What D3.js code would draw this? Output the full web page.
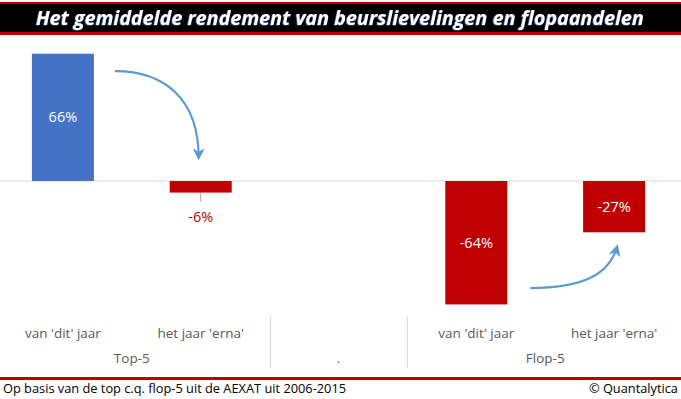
<!DOCTYPE html>
<html>
<head>
<meta charset="utf-8">
<script src="https://cdn.jsdelivr.net/npm/d3@7"></script>
<style>
  html, body { margin: 0; padding: 0; background: #fff; }
  svg { display: block; }
</style>
</head>
<body>
<svg id="chart" width="681" height="399"></svg>
<script>
// ---- data ----
const categories = ["van 'dit' jaar", "het jaar 'erna'", "", "van 'dit' jaar", "het jaar 'erna'"];
const groups = ["Top-5", "Top-5", ".", "Flop-5", "Flop-5"];
const values = [0.66, -0.06, null, -0.64, -0.266];
const yDomain = [-0.7, 0.7];
const titleText = "Het gemiddelde rendement van beurslievelingen en flopaandelen";
const footnote = "Op basis van de top c.q. flop-5 uit de AEXAT uit 2006-2015";
const credit = "© Quantalytica";

const W = 681, H = 399;
const svg = d3.select("#chart");
const font = "'Open Sans', 'Noto Sans', sans-serif";

// ---- title bar ----
svg.append("rect").attr("x", 0).attr("y", 2).attr("width", W).attr("height", 33).attr("fill", "#C00000");
svg.append("rect").attr("x", 0).attr("y", 4).attr("width", W).attr("height", 28).attr("fill", "#000");
const defs = svg.append("defs");
const flt = defs.append("filter").attr("id", "tshadow").attr("x", "-5%").attr("y", "-20%").attr("width", "110%").attr("height", "140%");
flt.append("feDropShadow").attr("dx", -0.8).attr("dy", 0.5).attr("stdDeviation", 0.3).attr("flood-color", "#4a7fd0").attr("flood-opacity", 0.9);
svg.append("text")
  .attr("x", 36).attr("y", 25)
  .attr("textLength", 608).attr("lengthAdjust", "spacingAndGlyphs")
  .attr("font-family", font).attr("font-weight", 700).attr("font-style", "italic")
  .attr("font-size", 19).attr("fill", "#fff").attr("filter", "url(#tshadow)")
  .text(titleText);

// ---- scales ----
const ids = categories.map((c, i) => i);
const x = d3.scaleBand().domain(ids).range([-6, 683]).paddingInner(0.55).paddingOuter(0.275);
const y = d3.scaleLinear().domain(yDomain).range([316, 46]);
const pctFmt = d3.format(".0%");
const pct = v => pctFmt(v).replace("\u2212", "-");

// baseline
svg.append("line").attr("x1", 0).attr("x2", W).attr("y1", y(0)).attr("y2", y(0))
  .attr("stroke", "#D9D9D9").attr("stroke-width", 1);

// bars
const data = ids.map(i => ({ i, v: values[i] })).filter(d => d.v !== null);
svg.selectAll("rect.bar").data(data).enter().append("rect")
  .attr("class", "bar")
  .attr("x", d => x(d.i))
  .attr("width", x.bandwidth())
  .attr("y", d => y(Math.max(0, d.v)))
  .attr("height", d => Math.abs(y(d.v) - y(0)))
  .attr("fill", d => d.v >= 0 ? "#4472C4" : "#C00000");

// value labels
data.forEach(d => {
  const cx = x(d.i) + x.bandwidth() / 2;
  const h = Math.abs(y(d.v) - y(0));
  if (h > 30) {
    svg.append("text").attr("x", cx).attr("y", (y(d.v) + y(0)) / 2 + 5)
      .attr("text-anchor", "middle").attr("font-family", font).attr("font-size", 14.5)
      .attr("fill", "#fff").text(pct(d.v));
  } else {
    // outside label with leader line
    svg.append("line").attr("x1", cx).attr("x2", cx).attr("y1", y(d.v)).attr("y2", y(d.v) + 9)
      .attr("stroke", "#A6A6A6").attr("stroke-width", 1);
    svg.append("text").attr("x", cx).attr("y", y(d.v) + 29)
      .attr("text-anchor", "middle").attr("font-family", font).attr("font-size", 14.5)
      .attr("fill", "#C00000").text(pct(d.v));
  }
});

// category axis (two levels)
const axisG = svg.append("g");
ids.forEach(i => {
  axisG.append("text").attr("x", x(i) + x.bandwidth() / 2).attr("y", 338)
    .attr("text-anchor", "middle").attr("font-family", font).attr("font-size", 13.5)
    .attr("fill", "#595959").text(categories[i]);
});
const groupNames = Array.from(new Set(groups));
groupNames.forEach(g => {
  const members = ids.filter(i => groups[i] === g);
  const cx = (x(members[0]) + x(members[members.length - 1]) + x.bandwidth()) / 2;
  axisG.append("text").attr("x", cx).attr("y", 363)
    .attr("text-anchor", "middle").attr("font-family", font).attr("font-size", 13.5)
    .attr("fill", "#595959").text(g);
});
// group separators
for (let k = 1; k < ids.length; k++) {
  if (groups[k] !== groups[k - 1]) {
    const sx = Math.round((x(ids[k - 1]) + x.bandwidth() + x(ids[k])) / 2) + 0.5;
    axisG.append("line").attr("x1", sx).attr("x2", sx).attr("y1", 316).attr("y2", 368)
      .attr("stroke", "#D9D9D9").attr("stroke-width", 1);
  }
}

// arrows (annotations)
const mk = defs.append("marker").attr("id", "arrow").attr("viewBox", "0 0 10 10")
  .attr("refX", 8).attr("refY", 5).attr("markerWidth", 5.5).attr("markerHeight", 5.5)
  .attr("orient", "auto-start-reverse").attr("markerUnits", "strokeWidth");
mk.append("path").attr("d", "M0,0 L10,5 L0,10 L3,5 Z").attr("fill", "#5B9BD5");

const a1x0 = x(0) + x.bandwidth() + 21, a1y0 = y(0.57);
const a1x1 = x(1) + x.bandwidth() / 2 - 2, a1y1 = y(0.12);
svg.append("path")
  .attr("d", `M${a1x0},${a1y0} C${a1x0 + 50},${a1y0} ${a1x1},${a1y0 + 28} ${a1x1},${a1y1}`)
  .attr("fill", "none").attr("stroke", "#5B9BD5").attr("stroke-width", 2.2)
  .attr("marker-end", "url(#arrow)");

const a2x0 = x(3) + x.bandwidth() + 23, a2y0 = y(-0.555);
const a2x1 = x(4) + x.bandwidth() / 2 + 3, a2y1 = y(-0.34);
svg.append("path")
  .attr("d", `M${a2x0},${a2y0} C${a2x0 + 50},${a2y0} ${a2x1 - 8},${a2y0 - 12} ${a2x1},${a2y1}`)
  .attr("fill", "none").attr("stroke", "#5B9BD5").attr("stroke-width", 2.2)
  .attr("marker-end", "url(#arrow)");

// footer
svg.append("rect").attr("x", 0).attr("y", 377).attr("width", W).attr("height", 3).attr("fill", "#C00000");
svg.append("text").attr("x", 3).attr("y", 393).attr("font-family", font).attr("font-size", 12.8)
  .attr("fill", "#000").text(footnote);
svg.append("text").attr("x", 678).attr("y", 393).attr("text-anchor", "end").attr("font-family", font)
  .attr("font-size", 12.8).attr("fill", "#000").text(credit);
</script>
</body>
</html>
